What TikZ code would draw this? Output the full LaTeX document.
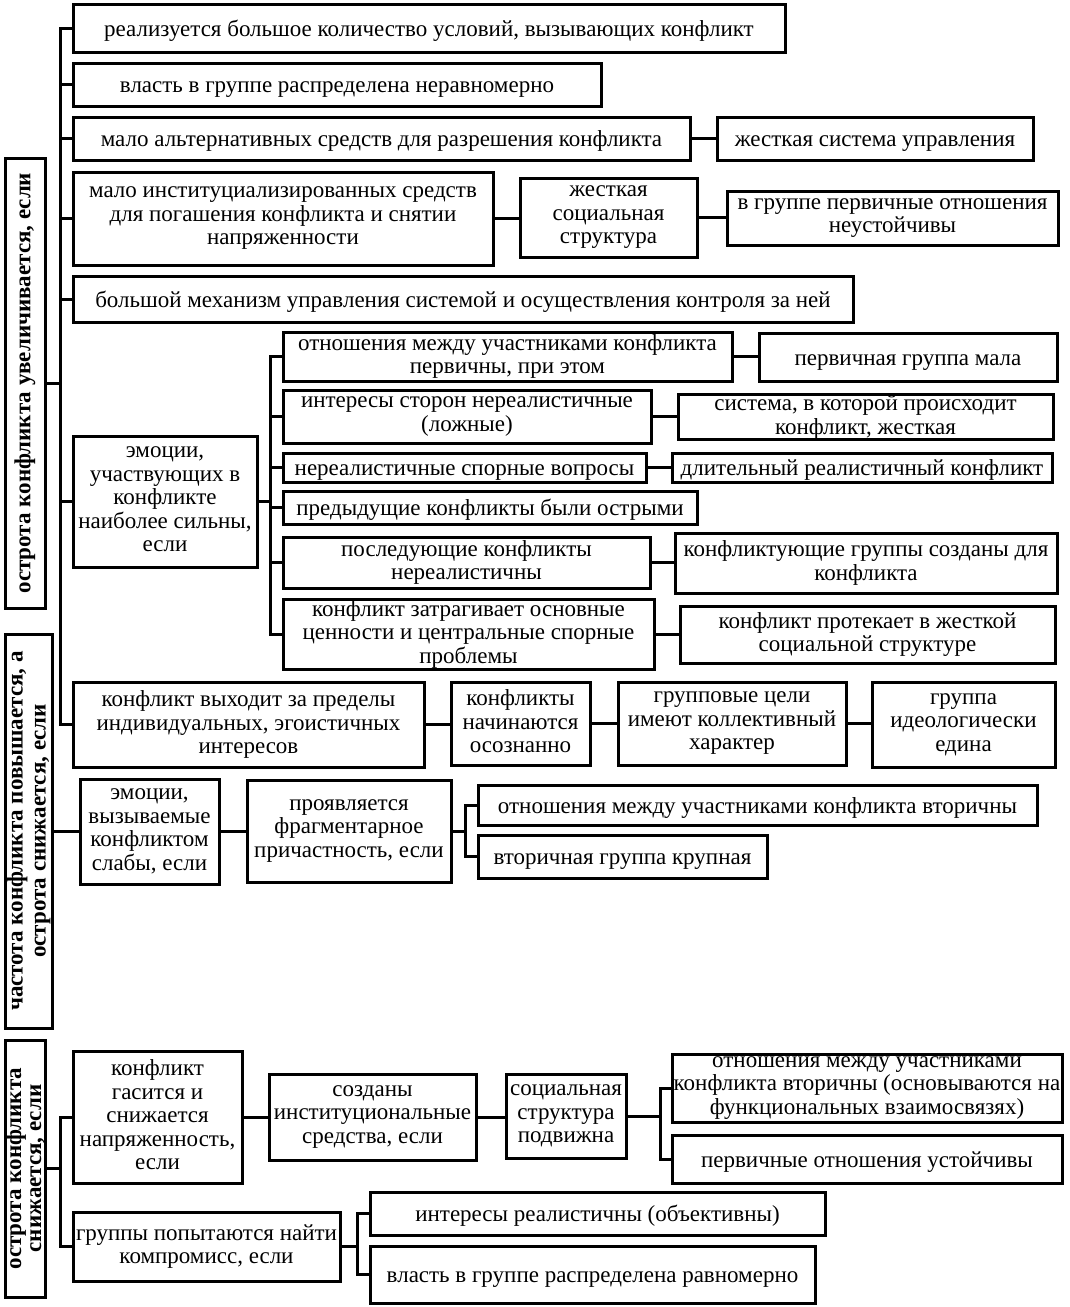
\documentclass[tikz,border=0pt]{standalone}
\usepackage{fontspec}
\setmainfont{Liberation Serif}
\newcommand{\topstrut}{\rule{0pt}{21pt}}
\newcommand{\botstrut}{\rule[-4pt]{0pt}{4pt}}
\tikzset{
  every picture/.style={line width=3pt},
  box/.style={draw, fill=white, align=center, inner sep=0pt, font=\fontsize{23}{23.5}\selectfont,
    execute at begin node=\topstrut, execute at end node=\botstrut},
  spot/.style n args={4}{at={({(#1+#3)/2},{(#2+#4)/2})}, minimum width={(#3)-(#1)}, minimum height={(#4)-(#2)}},
  side/.style={draw, rotate=90, align=center, inner sep=0pt, font=\bfseries\fontsize{23}{23}\selectfont},
  link/.style={line width=3pt, line cap=rect},
}
\begin{document}
\begin{tikzpicture}[x=1pt, y=-1pt]
  \useasboundingbox (0,0) rectangle (1069,1307);
  % side labels
  \node[side, minimum width=450pt, minimum height=40pt] (l1) at (25,383) {острота конфликта увеличивается, если};
  \node[side, minimum width=394pt, minimum height=47pt] (l2) at (28.5,831) {частота конфликта повышается, а\\острота  снижается, если};
  \node[side, minimum width=257pt, minimum height=40pt, font=\bfseries\fontsize{23}{20}\selectfont] (l3) at (25,1168.5) {острота конфликта\\снижается, если};
  % upper block
  \node[box, spot={73}{4}{785}{52}] (b1) {реализуется большое количество условий, вызывающих конфликт};
  \node[box, spot={73}{63}{601}{106}] (b2) {власть в группе распределена неравномерно};
  \node[box, spot={73}{117}{690}{160}] (b3) {мало альтернативных  средств для разрешения конфликта};
  \node[box, spot={717}{117}{1033}{160}] (b3r) {жесткая система управления};
  \node[box, spot={73}{172}{493}{265}] (b4) {мало институциализированных  средств\\для погашения конфликта и снятии\\напряженности};
  \node[box, spot={520}{178}{697}{257}] (b4m) {жесткая\\социальная\\структура};
  \node[box, spot={727}{191}{1058}{245}] (b4r) {в группе первичные отношения\\неустойчивы};
  \node[box, spot={73}{276}{853}{322}] (b5) {большой механизм управления системой и осуществления контроля за ней};
  \node[box, spot={73}{436}{257}{567}] (emo) {эмоции,\\участвующих в\\конфликте\\наиболее сильны,\\если};
  \node[box, spot={283}{332}{732}{381}] (s1) {отношения между участниками конфликта\\первичны, при этом};
  \node[box, spot={759}{333}{1057}{381}] (s1r) {первичная группа мала};
  \node[box, spot={283}{390}{651}{443}] (s2) {интересы сторон нереалистичные\\(ложные)};
  \node[box, spot={678}{395}{1053}{439}] (s2r) {система, в которой происходит\\конфликт, жесткая};
  \node[box, spot={283}{453}{646}{482}] (s3) {нереалистичные  спорные вопросы};
  \node[box, spot={672}{453}{1052}{482}] (s3r) {длительный  реалистичный  конфликт};
  \node[box, spot={283}{491}{697}{524}] (s4) {предыдущие конфликты были острыми};
  \node[box, spot={283}{537}{650}{588}] (s5) {последующие конфликты\\нереалистичны};
  \node[box, spot={675}{533}{1057}{593}] (s5r) {конфликтующие группы созданы для\\конфликта};
  \node[box, spot={283}{599}{654}{669}] (s6) {конфликт затрагивает основные\\ценности и центральные спорные\\проблемы};
  \node[box, spot={680}{606}{1055}{663}] (s6r) {конфликт протекает в жесткой\\социальной структуре};
  \node[box, spot={73}{682}{424}{767}] (b7) {конфликт выходит за пределы\\индивидуальных, эгоистичных\\интересов};
  \node[box, spot={451}{682}{590}{765}] (b7b) {конфликты\\начинаются\\осознанно};
  \node[box, spot={618}{682}{846}{765}] (b7c) {групповые цели\\имеют коллективный\\характер};
  \node[box, spot={872}{682}{1055}{767}] (b7d) {группа\\идеологически\\едина};
  % middle block
  \node[box, spot={80}{779}{219}{884}] (e2) {эмоции,\\вызываемые\\конфликтом\\слабы, если};
  \node[box, spot={247}{780}{451}{882}] (f2) {проявляется\\фрагментарное\\причастность, если};
  \node[box, spot={478}{785}{1037}{825}] (g1) {отношения между участниками конфликта вторичны};
  \node[box, spot={478}{835}{767}{878}] (g2) {вторичная группа крупная};
  % lower block
  \node[box, spot={73}{1051}{242}{1183}] (h1) {конфликт\\гасится и\\снижается\\напряженность,\\если};
  \node[box, spot={269}{1074}{476}{1160}] (h2) {созданы\\институциональные\\средства, если};
  \node[box, spot={506}{1074}{626}{1158}] (h3) {социальная\\структура\\подвижна};
  \node[box, spot={672}{1054}{1062}{1122}] (k1) {отношения между участниками\\конфликта вторичны (основываются на\\функциональных  взаимосвязях)};
  \node[box, spot={672}{1135}{1062}{1183}] (k2) {первичные отношения устойчивы};
  \node[box, spot={73}{1212}{340}{1281}] (h4) {группы попытаются найти\\компромисс, если};
  \node[box, spot={370}{1192}{825}{1235}] (m1) {интересы реалистичны (объективны)};
  \node[box, spot={370}{1246}{815}{1303}] (m2) {власть в группе распределена равномерно};
  % trunks
  \coordinate (t1) at (60,0);
  \coordinate (t2) at (270,0);
  \coordinate (t3) at (465,0);
  \coordinate (t5) at (660,0);
  \coordinate (t6) at (357,0);
  \draw[link] (b1.west -| t1) -- (b7.west -| t1);
  \foreach \n in {b1,b2,b3,b4,b5,emo,b7} \draw[link] (\n.west) -- (\n.west -| t1);
  \draw[link] (l1.south) -- (l1.south -| t1);
  \draw[link] (s1.west -| t2) -- (s6.west -| t2);
  \foreach \n in {s1,s2,s3,s4,s5,s6} \draw[link] (\n.west) -- (\n.west -| t2);
  \draw[link] (emo.east) -- (emo.east -| t2);
  \draw[link] (g1.west -| t3) -- (g2.west -| t3);
  \foreach \n in {g1,g2} \draw[link] (\n.west) -- (\n.west -| t3);
  \draw[link] (f2.east) -- (f2.east -| t3);
  \draw[link] (h1.west -| t1) -- (h4.west -| t1);
  \foreach \n in {h1,h4} \draw[link] (\n.west) -- (\n.west -| t1);
  \draw[link] (l3.south) -- (l3.south -| t1);
  \draw[link] (k1.west -| t5) -- (k2.west -| t5);
  \foreach \n in {k1,k2} \draw[link] (\n.west) -- (\n.west -| t5);
  \draw[link] (h3.east) -- (h3.east -| t5);
  \draw[link] (m1.west -| t6) -- (m2.west -| t6);
  \foreach \n in {m1,m2} \draw[link] (\n.west) -- (\n.west -| t6);
  \draw[link] (h4.east) -- (h4.east -| t6);
  % chains
  \foreach \a/\b in {b3/b3r, b4/b4m, b4m/b4r, s1/s1r, s2/s2r, s3/s3r, s5/s5r, s6/s6r,
                     b7/b7b, b7b/b7c, b7c/b7d, e2/f2, h1/h2, h2/h3}
    \draw[link] (\a.east) -- (\a.east -| \b.west);
  \draw[link] (l2.south) -- (l2.south -| e2.west);
\end{tikzpicture}
\end{document}
